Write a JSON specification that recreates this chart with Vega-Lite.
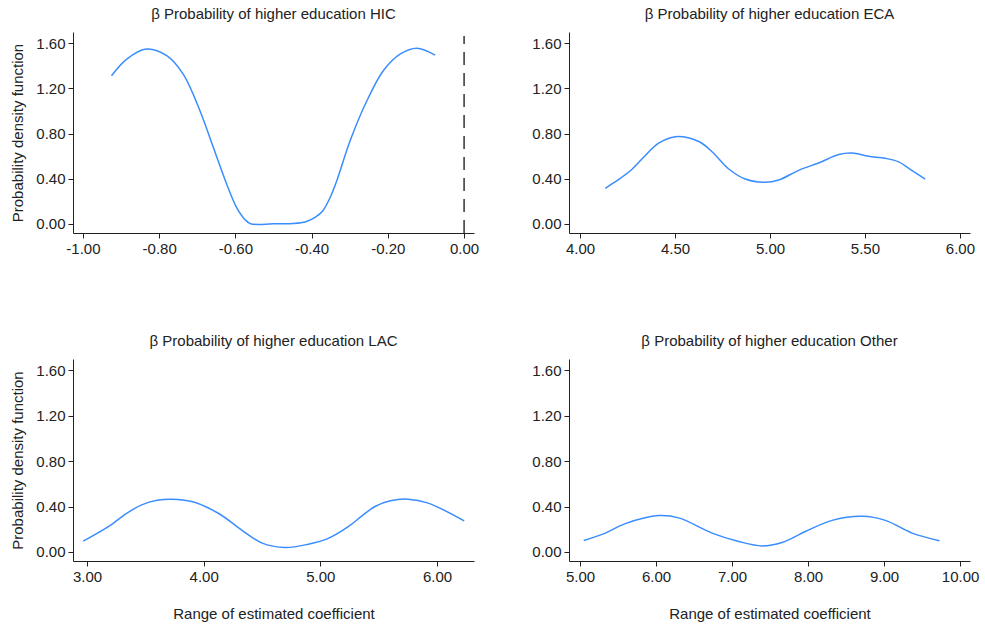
{
  "$schema": "https://vega.github.io/schema/vega-lite/v6.json",
  "background": "white",
  "padding": {"left": 10, "top": 7, "right": 5, "bottom": 5},
  "bounds": "flush",
  "columns": 2,
  "spacing": {"row": 126, "column": 95},
  "datasets": {
    "hic": [
      {"x": -0.925, "y": 1.312}, {"x": -0.885, "y": 1.46}, {"x": -0.833, "y": 1.549}, {"x": -0.78, "y": 1.49},
      {"x": -0.737, "y": 1.327}, {"x": -0.693, "y": 1.003}, {"x": -0.658, "y": 0.679}, {"x": -0.623, "y": 0.354},
      {"x": -0.597, "y": 0.147}, {"x": -0.575, "y": 0.04}, {"x": -0.56, "y": 0.002}, {"x": -0.501, "y": 0.001},
      {"x": -0.45, "y": 0.004}, {"x": -0.415, "y": 0.02}, {"x": -0.39, "y": 0.06}, {"x": -0.37, "y": 0.12}, {"x": -0.352, "y": 0.23}, {"x": -0.334, "y": 0.383},
      {"x": -0.299, "y": 0.737}, {"x": -0.255, "y": 1.091}, {"x": -0.212, "y": 1.357}, {"x": -0.168, "y": 1.504},
      {"x": -0.124, "y": 1.557}, {"x": -0.076, "y": 1.496}
    ],
    "eca": [
      {"x": 4.133, "y": 0.316}, {"x": 4.2, "y": 0.39}, {"x": 4.274, "y": 0.485}, {"x": 4.34, "y": 0.6}, {"x": 4.414, "y": 0.715}, {"x": 4.502, "y": 0.773},
      {"x": 4.625, "y": 0.73}, {"x": 4.695, "y": 0.64}, {"x": 4.783, "y": 0.487}, {"x": 4.87, "y": 0.398},
      {"x": 4.975, "y": 0.369}, {"x": 5.046, "y": 0.389}, {"x": 5.151, "y": 0.475}, {"x": 5.256, "y": 0.54},
      {"x": 5.362, "y": 0.615}, {"x": 5.432, "y": 0.628}, {"x": 5.519, "y": 0.599}, {"x": 5.607, "y": 0.581},
      {"x": 5.677, "y": 0.55}, {"x": 5.75, "y": 0.47}, {"x": 5.817, "y": 0.398}
    ],
    "lac": [
      {"x": 2.968, "y": 0.095}, {"x": 3.183, "y": 0.222}, {"x": 3.34, "y": 0.34}, {"x": 3.469, "y": 0.415}, {"x": 3.6, "y": 0.455}, {"x": 3.726, "y": 0.465},
      {"x": 3.897, "y": 0.444}, {"x": 4.125, "y": 0.341}, {"x": 4.326, "y": 0.193}, {"x": 4.497, "y": 0.08},
      {"x": 4.697, "y": 0.039}, {"x": 4.896, "y": 0.068}, {"x": 5.068, "y": 0.119}, {"x": 5.239, "y": 0.222},
      {"x": 5.36, "y": 0.32}, {"x": 5.468, "y": 0.4}, {"x": 5.6, "y": 0.45}, {"x": 5.753, "y": 0.465}, {"x": 5.925, "y": 0.43}, {"x": 6.233, "y": 0.273}
    ],
    "other": [
      {"x": 5.049, "y": 0.1}, {"x": 5.333, "y": 0.166}, {"x": 5.596, "y": 0.249}, {"x": 6.035, "y": 0.32},
      {"x": 6.298, "y": 0.3}, {"x": 6.737, "y": 0.166}, {"x": 7.088, "y": 0.092}, {"x": 7.395, "y": 0.053},
      {"x": 7.658, "y": 0.083}, {"x": 7.965, "y": 0.18}, {"x": 8.316, "y": 0.278}, {"x": 8.711, "y": 0.314},
      {"x": 9.017, "y": 0.278}, {"x": 9.368, "y": 0.166}, {"x": 9.728, "y": 0.098}
    ],
    "zero": [{"x": 0, "y": -0.08, "y2": 1.665}]
  },
  "concat": [
    {
      "width": 401, "height": 201,
      "title": "β Probability of higher education HIC",
      "layer": [
        {
          "data": {"name": "hic"},
          "mark": {"type": "line", "interpolate": "catmull-rom", "color": "#3a8dff", "strokeWidth": 1.5},
          "encoding": {
            "x": {"field": "x", "type": "quantitative", "scale": {"domain": [-1.026, 0.026], "nice": false, "zero": false},
                  "axis": {"title": null, "values": [-1, -0.8, -0.6, -0.4, -0.2, 0], "labelExpr": "(datum.value < -0.0001 ? '-' : '') + format(abs(datum.value), '.2f')"}},
            "y": {"field": "y", "type": "quantitative", "scale": {"domain": [-0.08, 1.7], "nice": false},
                  "axis": {"title": "Probability density function", "values": [0, 0.4, 0.8, 1.2, 1.6], "format": ".2f"}}
          }
        },
        {
          "data": {"name": "zero"},
          "mark": {"type": "rule", "color": "#333333", "strokeWidth": 1.5, "strokeDash": [13, 8]},
          "encoding": {
            "x": {"field": "x", "type": "quantitative"},
            "y": {"field": "y", "type": "quantitative"},
            "y2": {"field": "y2"}
          }
        }
      ]
    },
    {
      "width": 401, "height": 201,
      "title": "β Probability of higher education ECA",
      "data": {"name": "eca"},
      "mark": {"type": "line", "interpolate": "catmull-rom", "color": "#3a8dff", "strokeWidth": 1.5},
      "encoding": {
        "x": {"field": "x", "type": "quantitative", "scale": {"domain": [3.942, 6.053], "nice": false, "zero": false},
              "axis": {"title": null, "values": [4, 4.5, 5, 5.5, 6], "format": ".2f"}},
        "y": {"field": "y", "type": "quantitative", "scale": {"domain": [-0.08, 1.7], "nice": false},
              "axis": {"title": null, "values": [0, 0.4, 0.8, 1.2, 1.6], "format": ".2f"}}
      }
    },
    {
      "width": 401, "height": 202,
      "title": "β Probability of higher education LAC",
      "data": {"name": "lac"},
      "mark": {"type": "line", "interpolate": "catmull-rom", "color": "#3a8dff", "strokeWidth": 1.5},
      "encoding": {
        "x": {"field": "x", "type": "quantitative", "scale": {"domain": [2.88, 6.317], "nice": false, "zero": false},
              "axis": {"title": "Range of estimated coefficient", "values": [3, 4, 5, 6], "format": ".2f"}},
        "y": {"field": "y", "type": "quantitative", "scale": {"domain": [-0.08, 1.7], "nice": false},
              "axis": {"title": "Probability density function", "values": [0, 0.4, 0.8, 1.2, 1.6], "format": ".2f"}}
      }
    },
    {
      "width": 401, "height": 202,
      "title": "β Probability of higher education Other",
      "data": {"name": "other"},
      "mark": {"type": "line", "interpolate": "catmull-rom", "color": "#3a8dff", "strokeWidth": 1.5},
      "encoding": {
        "x": {"field": "x", "type": "quantitative", "scale": {"domain": [4.855, 10.13], "nice": false, "zero": false},
              "axis": {"title": "Range of estimated coefficient", "values": [5, 6, 7, 8, 9, 10], "format": ".2f"}},
        "y": {"field": "y", "type": "quantitative", "scale": {"domain": [-0.08, 1.7], "nice": false},
              "axis": {"title": null, "values": [0, 0.4, 0.8, 1.2, 1.6], "format": ".2f"}}
      }
    }
  ],
  "config": {
    "view": {"stroke": null},
    "axis": {
      "grid": false, "domainColor": "#222222", "tickColor": "#222222", "labelColor": "#222222", "titleColor": "#222222",
      "labelFont": "Liberation Sans", "titleFont": "Liberation Sans", "labelFontSize": 15, "titleFontSize": 15,
      "titleFontWeight": "normal", "tickSize": 5, "labelPadding": 3, "domainWidth": 1, "tickWidth": 1
    },
    "axisY": {"titlePadding": 10},
    "axisX": {"titlePadding": 22},
    "title": {"font": "Liberation Sans", "fontSize": 15, "fontWeight": "normal", "color": "#222222", "offset": 10, "anchor": "middle"}
  }
}
